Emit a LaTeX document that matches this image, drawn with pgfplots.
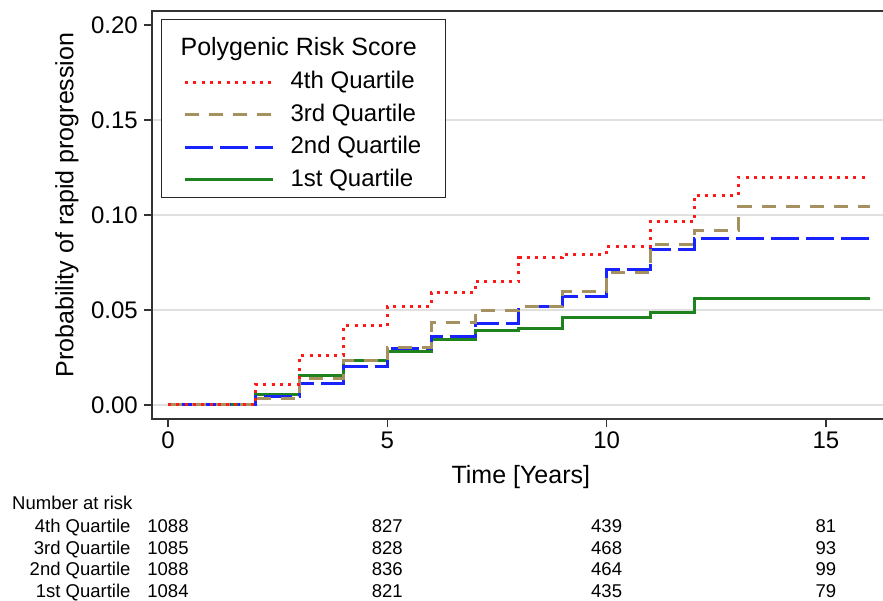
\documentclass[border=0pt]{standalone}
\usepackage{fontspec}
\setmainfont{Liberation Sans}
\usepackage{pgfplots}
\pgfplotsset{compat=1.18}
\definecolor{cred}{RGB}{255,25,25}
\definecolor{ctan}{RGB}{165,145,95}
\definecolor{cblue}{RGB}{25,35,255}
\definecolor{cgreen}{RGB}{30,130,30}
\newcommand{\tickfont}{\fontsize{24bp}{28bp}\selectfont}
\newcommand{\labfont}{\fontsize{25bp}{30bp}\selectfont}
\newcommand{\tabfont}{\fontsize{18.5bp}{22bp}\selectfont}
\begin{document}
\begin{tikzpicture}
\useasboundingbox (0,0) rectangle (883bp,-601bp);
\begin{axis}[
  name=a,
  at={(152bp,-11bp)}, anchor=north west,
  scale only axis, width=744bp, height=408.3bp,
  xmin=-0.3648, xmax=16.598, ymin=-0.00753, ymax=0.2074,
  xtick={0,5,10,15}, ytick={0,0.05,0.10,0.15},
  extra y ticks={0.20}, extra y tick style={grid=none},
  ymajorgrids, grid style={draw=black!12, line width=1.5bp},
  xtick pos=bottom, ytick pos=left, tick align=outside,
  major tick length=8bp,
  axis line style={draw=black!80, line width=1.7bp},
  tick style={draw=black!80, line width=1.3bp},
  /pgf/number format/assume math mode=true,
  tick label style={font=\tickfont},
  yticklabel style={/pgf/number format/.cd, fixed, fixed zerofill, precision=2, /tikz/.cd, anchor=east, inner sep=0pt, xshift=-6bp},
  xticklabel style={anchor=north, inner sep=0pt, yshift=-4.4bp},
  xlabel={Time [Years]},
  every axis x label/.style={at={(axis description cs:0.4957,-0.1567)}, anchor=base, font=\labfont},
  ylabel={Probability of rapid progression},
  every axis y label/.style={at={(axis description cs:-0.1058,0.525)}, rotate=90, anchor=base, font=\labfont},
  legend style={at={(axis description cs:0.0121,0.9804)}, anchor=north west,
    draw=black!85, line width=1.2bp, inner xsep=22bp, inner ysep=8bp,
    row sep=9bp, column sep=14bp, font=\fontsize{24bp}{28bp}\selectfont,
    cells={anchor=base west, inner sep=0pt, text height=18bp, text depth=6bp}},
  legend image code/.code={\draw[#1] (0bp,6.5bp) -- (88bp,6.5bp);},
  reverse legend,
  clip=false,
]
\addplot[const plot, draw=cgreen, line width=3bp] coordinates {
  (0,0) (2,0.0053) (3,0.0153) (4,0.0233) (5,0.0280) (6,0.0346) (7,0.0393)
  (8,0.0404) (9,0.0460) (11,0.0486) (12,0.0558) (16,0.0558)};
\addlegendentry{1st Quartile}
\addplot[const plot, draw=cblue, line width=3bp, dash pattern=on 28bp off 7bp] coordinates {
  (0,0) (2,0.0047) (3,0.0114) (4,0.0202) (5,0.0298) (6,0.0360) (7,0.0430)
  (8,0.0518) (9,0.0570) (10,0.0714) (11,0.0816) (12,0.0877) (16,0.0877)};
\addlegendentry{2nd Quartile}
\addplot[const plot, draw=ctan, line width=3bp, dash pattern=on 14bp off 10bp] coordinates {
  (0,0) (2,0.0035) (3,0.0140) (4,0.0233) (5,0.0304) (6,0.0433) (7,0.0498)
  (8,0.0520) (9,0.0600) (10,0.0700) (11,0.0846) (12,0.0916) (13,0.1044) (16,0.1044)};
\addlegendentry{3rd Quartile}
\addplot[const plot, draw=cred, line width=3bp, dash pattern=on 3bp off 5.3bp] coordinates {
  (0,0) (2,0.0110) (3,0.0260) (4,0.0416) (5,0.0518) (6,0.0593) (7,0.0650)
  (8,0.0776) (9,0.0793) (10,0.0833) (11,0.0965) (12,0.1105) (13,0.1198) (16,0.1198)};
\addlegendentry{4th Quartile}
\addlegendimage{empty legend}
\addlegendentry[text height=26bp, text depth=2bp, font=\labfont]{\hspace*{-110bp}Polygenic Risk Score}
\coordinate (t0) at (axis cs:0,0);
\coordinate (t5) at (axis cs:5,0);
\coordinate (t10) at (axis cs:10,0);
\coordinate (t15) at (axis cs:15,0);
\end{axis}
\node[anchor=base west, inner sep=0pt, font=\tabfont] at (12bp,-509bp) {Number at risk};
\foreach \lab/\va/\vb/\vc/\vd [count=\i] in {4th Quartile/1088/827/439/81, 3rd Quartile/1085/828/468/93, 2nd Quartile/1088/836/464/99, 1st Quartile/1084/821/435/79} {
  \pgfmathsetmacro{\yy}{-532.5-21.7*(\i-1)}
  \path (0bp,\yy bp) coordinate (row);
  \node[anchor=base east, inner sep=0pt, font=\tabfont] at (130.7bp,\yy bp) {\lab};
  \node[anchor=base, inner sep=0pt, font=\tabfont] at (t0 |- row) {\va};
  \node[anchor=base, inner sep=0pt, font=\tabfont] at (t5 |- row) {\vb};
  \node[anchor=base, inner sep=0pt, font=\tabfont] at (t10 |- row) {\vc};
  \node[anchor=base, inner sep=0pt, font=\tabfont] at (t15 |- row) {\vd};
}
\end{tikzpicture}
\end{document}
